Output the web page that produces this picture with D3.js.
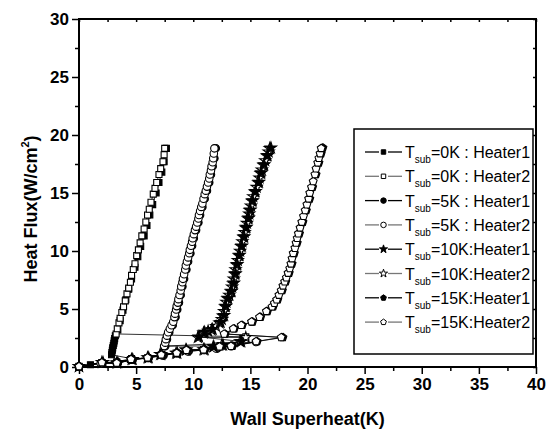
<!DOCTYPE html>
<html>
<head>
<meta charset="utf-8">
<script src="https://cdn.jsdelivr.net/npm/d3@7"></script>
<style>
body { margin: 0; background: #fff; }
text { font-family: "Liberation Sans", Arial, sans-serif; }
</style>
</head>
<body>
<div id="vis"></div>
<script>
const FRAME_WIDTH = 547;
const FRAME_HEIGHT = 434;
const MARGINS = {left: 79, right: 11, top: 19, bottom: 67};

// axis ticks
const X_TICKS = [0, 5, 10, 15, 20, 25, 30, 35, 40];
const Y_TICKS = [0, 5, 10, 15, 20, 25, 30];

// Tsub = 0K (squares)
const T0_H1 = [[0,0.05],[1.0,0.2],[2.0,0.36],[3.3,0.45],[4.6,0.72],
  [2.85,1.05],[2.88,1.25],[2.92,1.45],[2.95,1.65],[3.0,1.85],[3.05,2.05],[3.08,2.25],[3.12,2.45],[3.18,2.7],
  [3.4,3.2],[3.6,4.0],[3.85,4.9],[4.1,5.8],[4.35,6.7],[4.6,7.6],[4.9,8.6],[5.15,9.5],[5.4,10.4],
  [5.7,11.3],[5.95,12.2],[6.2,13.1],[6.45,14.0],[6.75,15.0],[7.0,15.9],[7.25,16.8],[7.45,17.7],[7.65,18.85]];
const T0_H2 = [[0,0.03],[2.0,0.38],[3.3,0.35],[4.5,0.65],[6.0,0.8],[7.2,1.05],[8.5,1.2],[9.4,1.45],
  [10.9,1.5],[12.4,1.85],[13.4,1.8],[14.6,2.6],
  [3.25,2.85],[3.35,3.3],[3.5,3.8],[3.6,4.2],[3.75,4.7],[3.9,5.2],[4.05,5.7],[4.2,6.3],[4.35,6.8],
  [4.5,7.3],[4.6,7.9],[4.75,8.4],[4.9,8.9],[5.05,9.6],[5.2,10.1],[5.35,10.7],[5.5,11.3],[5.7,11.9],
  [5.85,12.5],[6.0,13.1],[6.15,13.6],[6.3,14.2],[6.5,14.9],[6.65,15.4],[6.8,15.9],[7.0,16.6],
  [7.15,17.1],[7.35,17.7],[7.45,18.3],[7.5,18.85]];

// Tsub = 5K (circles)
const T5_H1 = [[0,0.04],[2.0,0.32],[3.4,0.34],[4.7,0.62],[6.1,0.78],[7.4,1.0],[8.6,1.18],[9.6,1.35],
  [11.0,1.47],[12.1,1.6],[13.4,1.82],
  [7.55,1.8],[7.7,2.4],[7.9,3.0],[8.2,3.6],[8.45,4.3],[8.6,4.95],[8.75,5.55],[8.9,6.2],[9.05,6.95],
  [9.2,7.6],[9.4,8.4],[9.55,9.1],[9.75,9.8],[9.9,10.45],[10.05,11.1],[10.25,11.8],[10.45,12.45],
  [10.6,13.1],[10.8,13.8],[11.0,14.5],[11.2,15.2],[11.4,15.9],[11.55,16.6],[11.7,17.3],[11.85,18.0],[11.97,18.85]];
const T5_H2 = [[0,0.04],[1.9,0.3],[3.3,0.32],[4.6,0.62],[6.0,0.78],[7.3,1.0],[8.55,1.18],[9.5,1.35],
  [10.9,1.47],[12.0,1.6],[13.3,1.8],[15.5,2.15],
  [7.45,1.8],[7.55,2.1],[7.6,2.4],[7.7,2.7],[7.8,3.0],[7.95,3.3],[8.1,3.6],[8.25,3.9],[8.35,4.3],
  [8.4,4.6],[8.5,4.95],[8.55,5.25],[8.65,5.55],[8.7,5.85],[8.8,6.2],[8.9,6.6],[8.95,6.95],[9.05,7.3],
  [9.1,7.6],[9.2,8.0],[9.3,8.4],[9.35,8.75],[9.45,9.1],[9.55,9.45],[9.65,9.8],[9.7,10.1],[9.8,10.45],
  [9.9,10.8],[9.95,11.1],[10.05,11.45],[10.15,11.8],[10.25,12.1],[10.35,12.45],[10.45,12.8],[10.5,13.1],
  [10.6,13.45],[10.7,13.8],[10.8,14.1],[10.9,14.5],[11.0,14.9],[11.1,15.2],[11.2,15.55],[11.3,15.9],
  [11.4,16.25],[11.45,16.6],[11.55,16.95],[11.6,17.3],[11.7,17.65],[11.75,18.0],[11.8,18.4],[11.85,18.85]];

// Tsub = 10K (stars)
const T10_H1 = [[0,0.05],[2.1,0.4],[3.4,0.37],[4.7,0.66],[6.1,0.8],[7.2,1.1],[8.6,1.2],[9.4,1.47],
  [11.0,1.5],[11.8,1.75],[12.6,1.9],[14.2,2.2],
  [10.5,2.6],[11.0,3.0],[11.7,3.25],[12.4,3.85],[12.7,4.45],[12.85,5.25],[13.05,5.95],[13.35,6.55],
  [13.55,7.25],[13.7,8.05],[13.85,8.85],[14.05,9.65],[14.25,10.45],[14.45,11.25],[14.65,12.05],
  [14.85,12.85],[15.0,13.55],[15.2,14.35],[15.45,15.15],[15.75,15.95],[15.95,16.75],[16.2,17.45],
  [16.5,18.25],[16.8,18.9]];
const T10_H2 = [[0,0.05],[2.0,0.4],[3.3,0.36],[4.6,0.66],[6.0,0.8],[7.1,1.1],[8.5,1.2],[9.35,1.47],
  [10.9,1.5],[11.75,1.75],[12.5,1.9],[14.1,2.2],[14.6,2.55],
  [10.4,2.55],[10.9,2.95],[11.3,3.1],[11.6,3.2],[12.0,3.5],[12.3,3.8],[12.5,4.1],[12.6,4.4],[12.7,4.8],
  [12.8,5.2],[12.9,5.6],[13.0,5.9],[13.15,6.2],[13.3,6.5],[13.4,6.9],[13.5,7.2],[13.55,7.6],[13.65,8.0],
  [13.7,8.4],[13.8,8.8],[13.9,9.2],[14.0,9.6],[14.1,10.0],[14.2,10.4],[14.3,10.8],[14.4,11.2],
  [14.5,11.6],[14.6,12.0],[14.7,12.4],[14.8,12.8],[14.9,13.2],[14.95,13.5],[15.05,13.9],[15.15,14.3],
  [15.25,14.7],[15.4,15.1],[15.55,15.5],[15.7,15.9],[15.8,16.3],[15.9,16.7],[16.0,17.0],[16.15,17.4],
  [16.3,17.8],[16.45,18.2],[16.6,18.55],[16.7,18.85]];

// Tsub = 15K (pentagons)
const T15_H1 = [[0,0.04],[2.1,0.38],[3.4,0.34],[4.65,0.66],[6.1,0.8],[7.3,1.05],[8.65,1.2],[9.5,1.45],
  [11.0,1.48],[12.4,1.75],[13.4,1.8],[15.6,2.2],[17.85,2.55],
  [12.8,2.85],[13.6,3.3],[14.3,3.6],[15.2,3.9],[15.9,4.3],[16.5,4.8],[17.0,5.2],[17.4,5.8],[17.8,6.6],
  [18.1,7.35],[18.4,8.1],[18.65,8.9],[18.85,9.8],[19.1,10.7],[19.3,11.5],[19.6,12.5],[19.9,13.5],
  [20.2,14.5],[20.45,15.5],[20.75,16.6],[21.0,17.6],[21.2,18.4],[21.35,18.9]];
const T15_H2 = [[0,0.04],[2.0,0.38],[3.3,0.34],[4.55,0.66],[6.0,0.8],[7.2,1.05],[8.55,1.2],[9.4,1.45],
  [10.9,1.48],[12.3,1.75],[13.3,1.8],[15.5,2.2],[17.7,2.55],
  [12.7,2.85],[13.5,3.3],[14.2,3.6],[15.1,3.9],[15.8,4.3],[16.4,4.8],[16.9,5.2],[17.1,5.5],[17.3,5.8],
  [17.5,6.2],[17.7,6.6],[17.85,7.0],[18.0,7.35],[18.15,7.7],[18.3,8.1],[18.45,8.5],[18.55,8.9],
  [18.65,9.35],[18.75,9.8],[18.9,10.25],[19.0,10.7],[19.1,11.1],[19.2,11.5],[19.35,12.0],[19.5,12.5],
  [19.65,13.0],[19.8,13.5],[19.95,14.0],[20.1,14.5],[20.2,15.0],[20.35,15.5],[20.5,16.0],[20.65,16.6],
  [20.75,17.1],[20.9,17.6],[21.0,18.0],[21.1,18.4],[21.2,18.85]];

// legend labels: subscript temperature part and heater part
const LABELS = ["=0K : Heater1", "=0K : Heater2", "=5K : Heater1", "=5K : Heater2",
                "=10K:Heater1", "=10K:Heater2", "=15K:Heater1", "=15K:Heater2"];

// pentagon marker, not in d3 by default
const symbolPentagon = {
  draw(context, size) {
    const r = Math.sqrt(size) * 0.62;
    for (let i = 0; i < 5; i++) {
      const a = -Math.PI / 2 + i * 2 * Math.PI / 5;
      const px = r * Math.cos(a), py = r * Math.sin(a);
      if (i === 0) context.moveTo(px, py); else context.lineTo(px, py);
    }
    context.closePath();
  }
};

// one entry per series, in legend order; z = drawing order
const SERIES = [
  {data: T0_H1, shape: d3.symbolSquare, size: 36, fill: "#000", line: "#000", z: 0},
  {data: T0_H2, shape: d3.symbolSquare, size: 36, fill: "#fff", line: "#777", z: 1},
  {data: T5_H1, shape: d3.symbolCircle, size: 44, fill: "#000", line: "#000", z: 2},
  {data: T5_H2, shape: d3.symbolCircle, size: 44, fill: "#fff", line: "#777", z: 3},
  {data: T10_H1, shape: d3.symbolStar, size: 38, fill: "#000", line: "#000", z: 5},
  {data: T10_H2, shape: d3.symbolStar, size: 38, fill: "#fff", line: "#777", z: 4},
  {data: T15_H1, shape: symbolPentagon, size: 44, fill: "#000", line: "#000", z: 6},
  {data: T15_H2, shape: symbolPentagon, size: 44, fill: "#fff", line: "#777", z: 7}
];

const FRAME = d3.select("#vis")
  .append("svg")
    .attr("width", FRAME_WIDTH)
    .attr("height", FRAME_HEIGHT);

const X_SCALE = d3.scaleLinear()
  .domain([0, 40])
  .range([MARGINS.left, FRAME_WIDTH - MARGINS.right]);

const Y_SCALE = d3.scaleLinear()
  .domain([0, 30])
  .range([FRAME_HEIGHT - MARGINS.bottom, MARGINS.top]);

const X0 = X_SCALE(0), X1 = X_SCALE(40), Y0 = Y_SCALE(0), Y1 = Y_SCALE(30);
const HALF = [2.5, 7.5, 12.5, 17.5, 22.5, 27.5, 32.5, 37.5];
const HALF_Y = [2.5, 7.5, 12.5, 17.5, 22.5, 27.5];

// style helper for axes
function styleAxis(g, labels) {
  g.select(".domain").remove();
  g.selectAll(".tick line").attr("stroke", "#000").attr("stroke-width", 1.5);
  g.selectAll(".tick text")
    .attr("font-size", labels ? "17px" : "0px")
    .attr("font-weight", "bold")
    .attr("fill", "#000");
}

// bottom axis, major + minor
FRAME.append("g")
  .attr("transform", "translate(0," + Y0 + ")")
  .call(d3.axisBottom(X_SCALE).tickValues(X_TICKS).tickSize(7).tickPadding(4))
  .call(g => styleAxis(g, true));
FRAME.append("g")
  .attr("transform", "translate(0," + Y0 + ")")
  .call(d3.axisBottom(X_SCALE).tickValues(HALF).tickSize(4).tickFormat(""))
  .call(g => styleAxis(g, false));

// left axis, major + minor
FRAME.append("g")
  .attr("transform", "translate(" + X0 + ",0)")
  .call(d3.axisLeft(Y_SCALE).tickValues(Y_TICKS).tickSize(7).tickPadding(3))
  .call(g => styleAxis(g, true));
FRAME.append("g")
  .attr("transform", "translate(" + X0 + ",0)")
  .call(d3.axisLeft(Y_SCALE).tickValues(HALF_Y).tickSize(4).tickFormat(""))
  .call(g => styleAxis(g, false));

// top and right axes, small inward ticks
FRAME.append("g")
  .attr("transform", "translate(0," + Y1 + ")")
  .call(d3.axisBottom(X_SCALE).tickValues(X_TICKS.concat(HALF)).tickSize(3).tickFormat(""))
  .call(g => styleAxis(g, false));
FRAME.append("g")
  .attr("transform", "translate(" + X1 + ",0)")
  .call(d3.axisLeft(Y_SCALE).tickValues(Y_TICKS.concat(HALF_Y)).tickSize(3).tickFormat(""))
  .call(g => styleAxis(g, false));

// frame box
FRAME.append("rect")
  .attr("x", X0).attr("y", Y1)
  .attr("width", X1 - X0).attr("height", Y0 - Y1)
  .attr("fill", "none").attr("stroke", "#000").attr("stroke-width", 2);

// series lines then markers
const LINE = d3.line().x(d => X_SCALE(d[0])).y(d => Y_SCALE(d[1]));

SERIES.forEach((s) => {
  FRAME.append("path")
    .attr("d", LINE(s.data))
    .attr("fill", "none")
    .attr("stroke", "#000")
    .attr("stroke-width", 0.8);
});

SERIES.slice().sort((a, b) => a.z - b.z).forEach((s) => {
  FRAME.append("g").selectAll("path")
    .data(s.data)
    .enter()
    .append("path")
      .attr("transform", d => "translate(" + X_SCALE(d[0]) + "," + Y_SCALE(d[1]) + ")")
      .attr("d", d3.symbol().type(s.shape).size(s.size))
      .attr("fill", s.fill)
      .attr("stroke", "#000")
      .attr("stroke-width", 1.1);
});

// legend
const LEG = FRAME.append("g");
LEG.append("rect")
  .attr("x", 354).attr("y", 129)
  .attr("width", 179).attr("height", 225)
  .attr("fill", "#fff").attr("stroke", "#000").attr("stroke-width", 1.5);

SERIES.forEach((s, i) => {
  const cy = 152 + i * 24.3;
  const row = LEG.append("g");
  row.append("line").attr("x1", 365).attr("x2", 379).attr("y1", cy).attr("y2", cy)
    .attr("stroke", s.line).attr("stroke-width", 1.3);
  row.append("line").attr("x1", 388).attr("x2", 402).attr("y1", cy).attr("y2", cy)
    .attr("stroke", s.line).attr("stroke-width", 1.3);
  row.append("path")
    .attr("transform", "translate(383.5," + cy + ")")
    .attr("d", d3.symbol().type(s.shape).size(s.size * 0.55))
    .attr("fill", s.fill).attr("stroke", "#000").attr("stroke-width", 1);
  const t = row.append("text")
    .attr("x", 405).attr("y", cy + 6)
    .attr("font-size", "16px").attr("fill", "#000");
  t.append("tspan").text("T");
  t.append("tspan").attr("font-size", "10px").attr("dy", 5).text("sub");
  t.append("tspan").attr("dy", -5).text(LABELS[i]);
});

// axis titles
FRAME.append("text")
  .attr("x", (X0 + X1) / 2).attr("y", 425)
  .attr("text-anchor", "middle")
  .attr("font-size", "18px").attr("font-weight", "bold")
  .text("Wall Superheat(K)");

const YT = FRAME.append("text")
  .attr("transform", "translate(36.5,209) rotate(-90)")
  .attr("text-anchor", "middle")
  .attr("font-size", "18px").attr("font-weight", "bold");
YT.append("tspan").text("Heat Flux(W/cm");
YT.append("tspan").attr("font-size", "11px").attr("dy", -8).text("2");
YT.append("tspan").attr("dy", 8).text(")");
</script>
</body>
</html>
